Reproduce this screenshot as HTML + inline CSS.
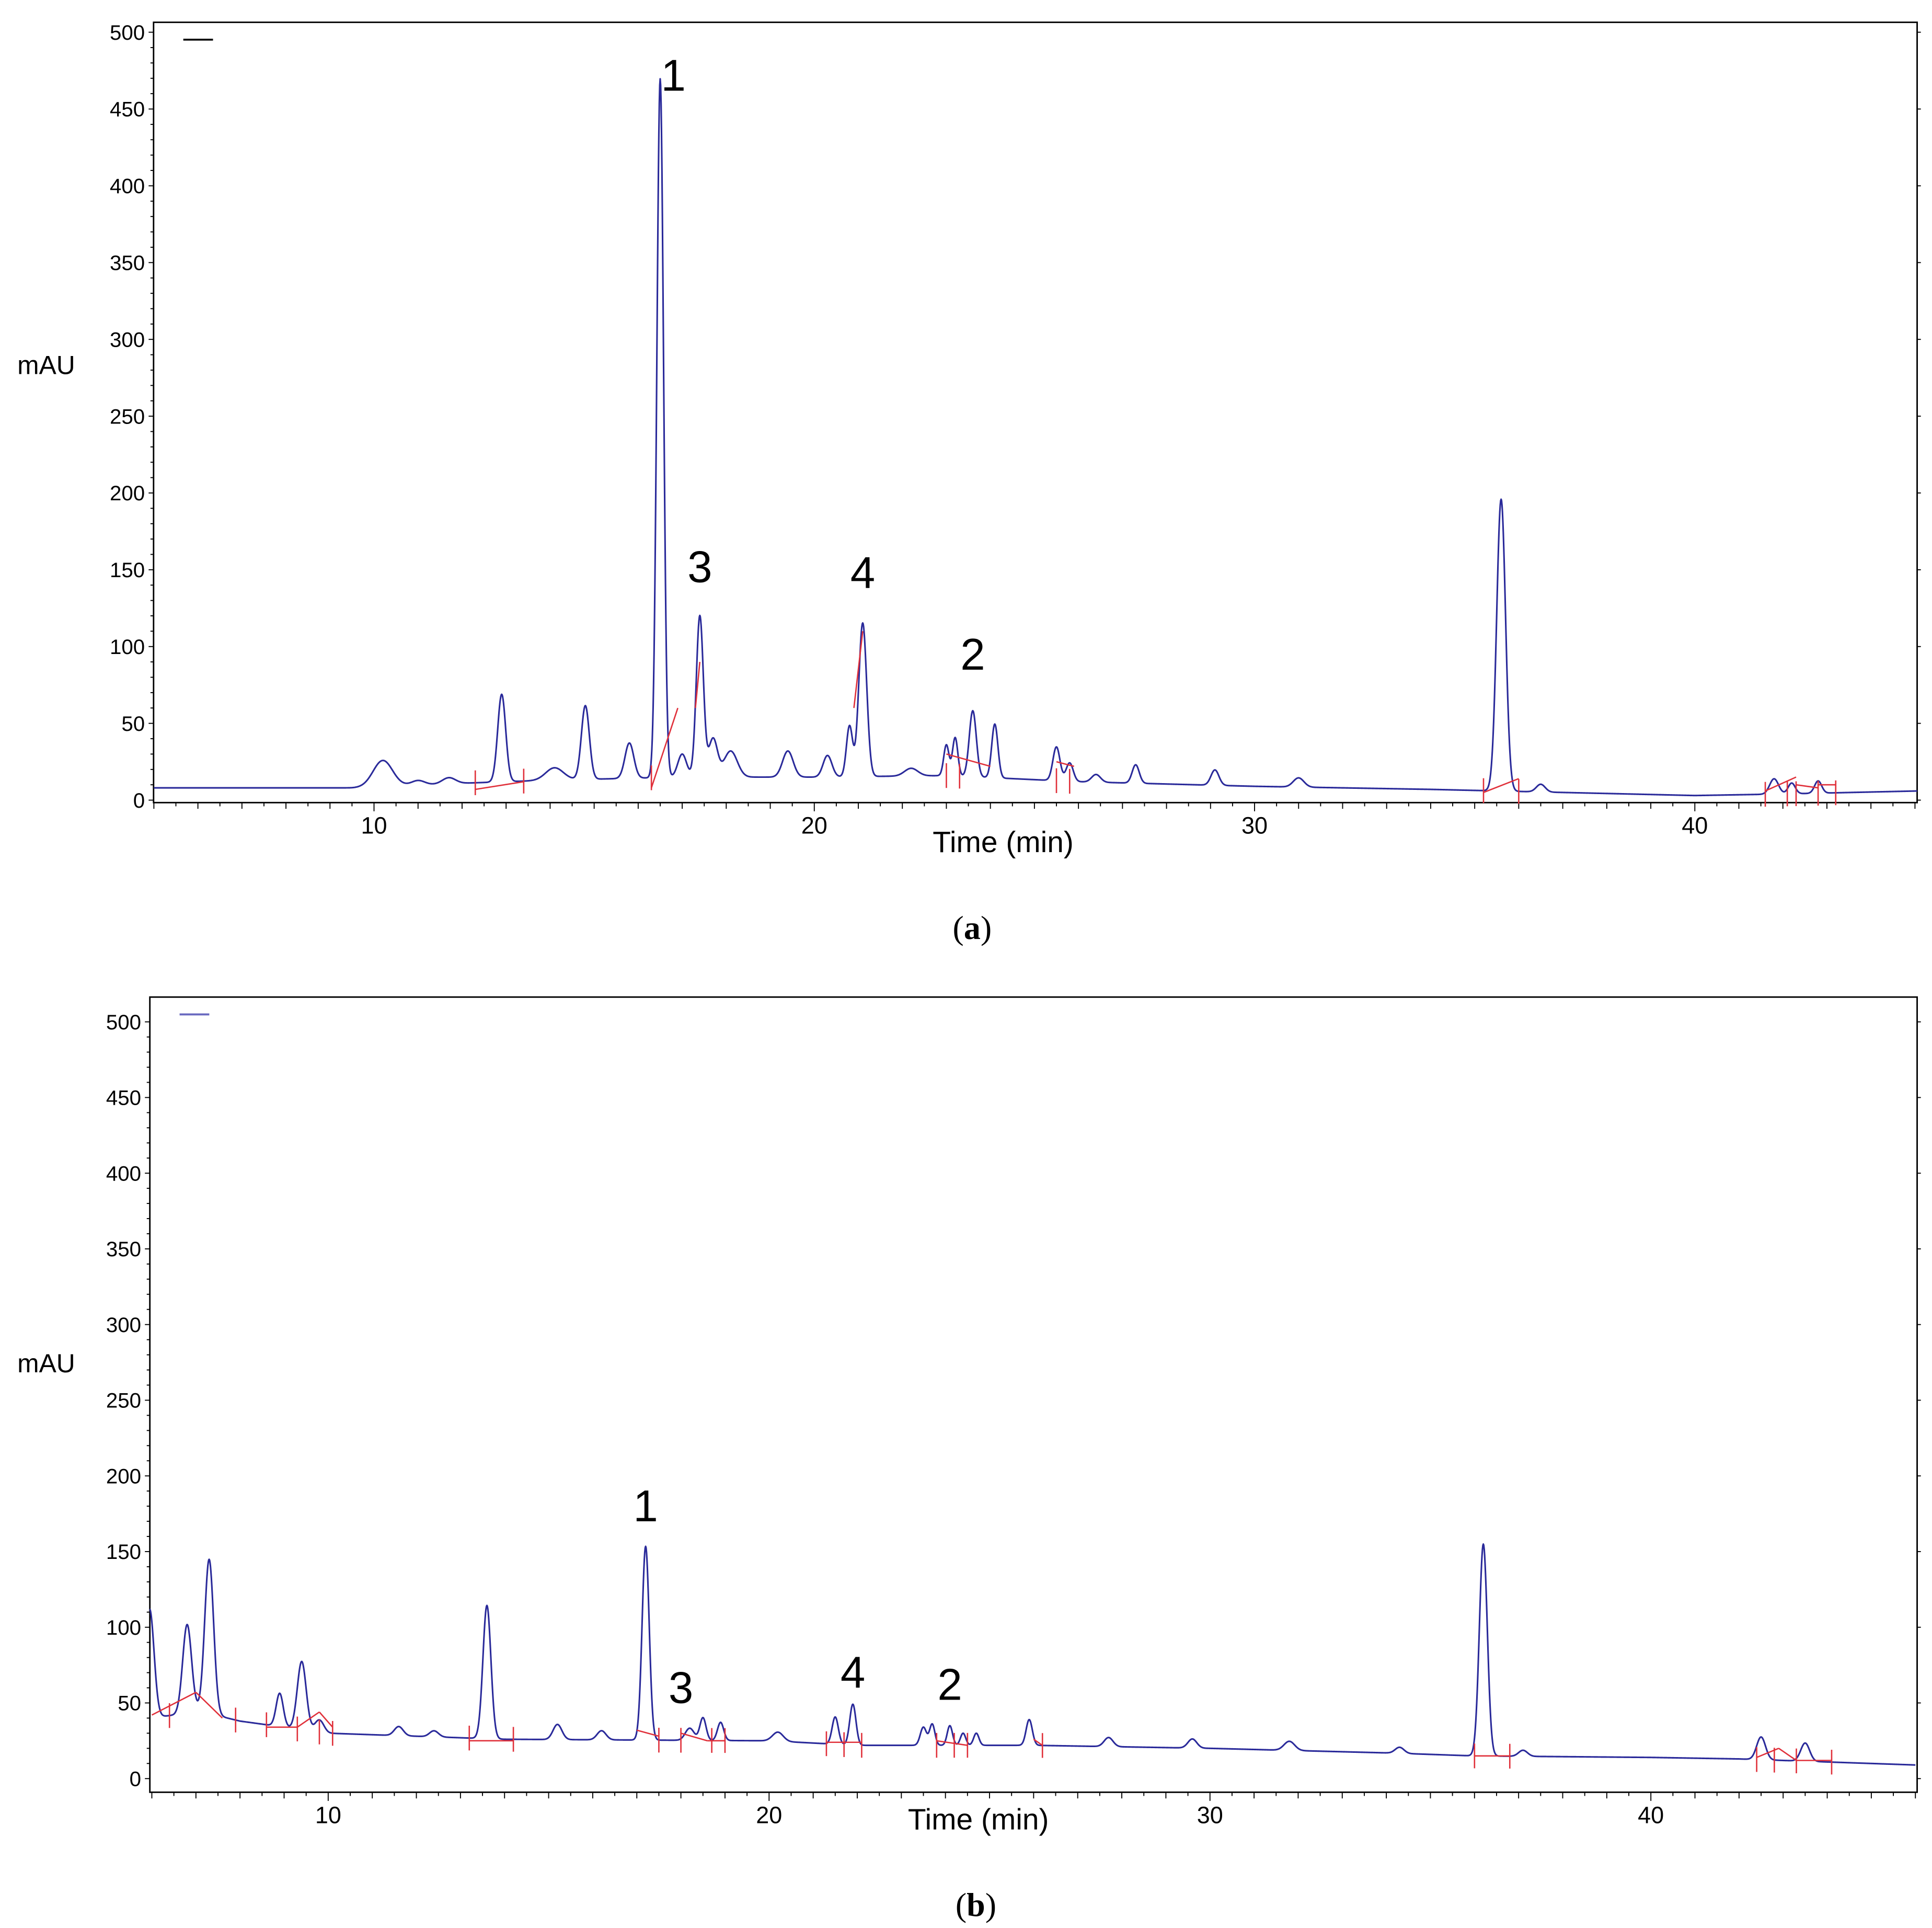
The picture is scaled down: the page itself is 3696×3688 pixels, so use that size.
<!DOCTYPE html>
<html><head><meta charset="utf-8"><style>
html,body{margin:0;padding:0;background:#fff}
svg{display:block}
</style></head><body>
<svg id="fig" xmlns="http://www.w3.org/2000/svg" width="3696" height="3688" viewBox="0 0 1560 1556.6" font-family="Liberation Sans, sans-serif">
<rect width="1560" height="1556.6" fill="#fff"/>
</svg>
<script>
// ---------- Panel (a) data ----------
const aPeakTimes  = [10.2,11.0,11.7,12.9,14.1,14.8,15.8,16.5,17.0,17.4,17.7,18.1,19.4,20.3,20.8,21.1,22.2,23.0,23.2,23.6,24.1,25.5,25.8,26.4,27.3,29.1,31.0,35.6,36.5,41.8,42.2,42.8];
const aPeakHeights= [17,3,4,57,8,48,23,455,15,105,25,17,17,14,33,100,5,20,25,43,35,22,12,5,12,10,6,190,5,10,7,8];
const aPeakWidths = [0.22,0.15,0.15,0.09,0.2,0.09,0.1,0.075,0.1,0.08,0.1,0.15,0.12,0.1,0.07,0.09,0.15,0.06,0.06,0.08,0.07,0.08,0.08,0.1,0.08,0.09,0.12,0.1,0.1,0.1,0.08,0.08];
const aBaseT = [5,9.5,12,14,17,20,23,26,30,34,37,40,42,45.1];
const aBaseV = [8,8,11,13,15,15,16,12,9,7,5,3,4,6];
const aIntSegs = [[12.3,7,13.4,12],[16.3,8,16.9,60],[17.3,60,17.4,90],[20.9,60,21.1,110],[23.0,30,24.0,22],[25.5,25,25.9,22],[35.2,5,36.0,14],[41.6,6,42.3,15],[42.3,10,42.8,8],[42.8,10,43.2,10]];
const aIntTicks = [12.3,13.4,16.3,23.0,23.3,25.5,25.8,35.2,36.0,41.6,42.1,42.3,42.8,43.2];
const aLabels = ["1","3","4","2"];
const aLabelT = [16.8,17.4,21.1,23.6];
const aLabelV = [462,142,138,85];

// ---------- Panel (b) data ----------
const bPeakTimes  = [5.95,6.8,7.3,8.9,9.4,9.8,11.6,12.4,13.6,15.2,16.2,17.2,18.2,18.5,18.9,20.2,21.5,21.9,23.5,23.7,24.1,24.4,24.7,25.9,27.7,29.6,31.8,34.3,36.2,37.1,42.5,43.5];
const bPeakHeights= [72,58,102,22,45,8,6,4,88,10,6,128,8,15,12,6,18,27,12,14,13,8,8,17,6,6,6,4,140,4,15,12];
const bPeakWidths = [0.1,0.1,0.1,0.08,0.1,0.1,0.1,0.1,0.09,0.1,0.1,0.08,0.1,0.07,0.07,0.12,0.07,0.07,0.07,0.06,0.06,0.06,0.06,0.07,0.1,0.1,0.12,0.1,0.09,0.1,0.1,0.1];
const bBaseT = [5.95,6.5,7.0,8.0,10,14,20,22,26,30,34,36,40,42,44,46];
const bBaseV = [40,42,45,38,30,26,25,22,22,20,17,15,14,13,11,9];
const bIntSegs = [[6.0,42,7.0,57],[7.0,57,7.6,40],[8.6,34,9.3,34],[9.3,34,9.8,44],[9.8,44,10.1,34],[13.2,25,14.2,25],[17.0,32,17.5,28],[18.0,30,18.6,25],[18.6,25,19.0,25],[21.3,24,22.1,24],[23.8,25,24.5,22],[26.0,26,26.2,22],[36.0,15,36.8,15],[42.4,14,42.9,20],[42.9,20,43.3,12],[43.3,12,44.1,12]];
const bIntTicks = [6.4,7.9,8.6,9.3,9.8,10.1,13.2,14.2,17.5,18.0,18.7,19.0,21.3,21.7,22.1,23.8,24.2,24.5,26.2,36.0,36.8,42.4,42.8,43.3,44.1];
const bLabels = ["1","3","4","2"];
const bLabelT = [17.2,18.0,21.9,24.1];
const bLabelV = [170,50,60,52];

const yTicks = [0,50,100,150,200,250,300,350,400,450,500];
const xTicks = [10,20,30,40];

const NS="http://www.w3.org/2000/svg";
const svg=document.getElementById('fig');
function mk(tag,attrs,parent){const e=document.createElementNS(NS,tag);for(const k in attrs)e.setAttribute(k,attrs[k]);(parent||svg).appendChild(e);return e;}
function interp(ts,vs,t){if(t<=ts[0])return vs[0];for(let i=1;i<ts.length;i++){if(t<=ts[i]){const f=(t-ts[i-1])/(ts[i]-ts[i-1]);return vs[i-1]+f*(vs[i]-vs[i-1]);}}return vs[vs.length-1];}

function panel(cfg){
  const g=mk('g',{});
  
  
  const X=t=>cfg.x10+(t-10)*cfg.pxMin;
  const Y=v=>cfg.y0-v*cfg.pxU;
  const fr=mk('rect',{x:cfg.left,y:cfg.top,width:cfg.right-cfg.left,height:cfg.bottom-cfg.top,fill:'none',stroke:'#000','stroke-width':1.2},g);
  
  
  for(let v=0;v<=500;v+=10){const major=v%50===0;mk('line',{x1:cfg.left-(major?4:2.5),x2:cfg.left,y1:Y(v),y2:Y(v),stroke:'#000','stroke-width':0.8},g);
    mk('line',{x1:cfg.right,x2:cfg.right+(major?3:0),y1:Y(v),y2:Y(v),stroke:'#000','stroke-width':0.8},g);}
  yTicks.forEach(v=>{const t=mk('text',{x:cfg.left-7,y:Y(v)+6,'font-size':17,'text-anchor':'end',fill:'#000'},g);t.textContent=v;
    
    });
  for(let t=Math.ceil(cfg.t0*2)/2;t<=cfg.t1;t+=0.5){const major=Math.abs(t-Math.round(t/10)*10)<1e-6;const mid=Math.abs(t-Math.round(t))<1e-6;
    mk('line',{x1:X(t),x2:X(t),y1:cfg.bottom,y2:cfg.bottom+(major?7:mid?5:3),stroke:'#000','stroke-width':0.8},g);}
  xTicks.forEach(v=>{const t=mk('text',{x:X(v),y:cfg.bottom+25,'font-size':19,'text-anchor':'middle',fill:'#000'},g);t.textContent=v;
    
    });
  const yl=mk('text',{x:cfg.ylx,y:cfg.yly,'font-size':21,fill:'#000'},g);yl.textContent='mAU';
  
  
  const xl=mk('text',{x:cfg.xlx,y:cfg.xly,'font-size':24,'text-anchor':'middle',fill:'#000'},g);xl.textContent='Time (min)';
  
  
  const lg=mk('line',{x1:cfg.left+24,x2:cfg.left+48,y1:cfg.top+14,y2:cfg.top+14,stroke:cfg.legendColor,'stroke-width':1.6},g);
  
  
  let d='';
  for(let t=cfg.t0;t<=cfg.t1;t+=0.01){let v=interp(cfg.bT,cfg.bV,t);
    for(let i=0;i<cfg.pt.length;i++){const z=(t-cfg.pt[i])/cfg.pw[i];if(Math.abs(z)<6)v+=cfg.ph[i]*Math.exp(-0.5*z*z);}
    d+=(d?'L':'M')+X(t).toFixed(2)+','+Y(v).toFixed(2);}
  const tr=mk('path',{d:d,fill:'none',stroke:'#2a2a9a','stroke-width':1.3,'stroke-linejoin':'round'},g);
  
  
  cfg.segs.forEach(s=>{const l=mk('line',{x1:X(s[0]),y1:Y(s[1]),x2:X(s[2]),y2:Y(s[3]),stroke:'#e0303a','stroke-width':1.1},g);
    
    });
  cfg.ticks.forEach(t=>{const yv=Y(interp(cfg.bT,cfg.bV,t));const l=mk('line',{x1:X(t),y1:yv-10,x2:X(t),y2:yv+10,stroke:'#e0303a','stroke-width':1.1},g);
    
    });
  cfg.labels.forEach((s,i)=>{const t=mk('text',{x:X(cfg.lt[i]),y:Y(cfg.lv[i]),'font-size':36,'text-anchor':'middle',fill:'#000'},g);t.textContent=s;
    
    });
  const cap=mk('text',{x:cfg.capx,y:cfg.capy,'font-size':27,'text-anchor':'middle','font-family':'Liberation Serif, serif',fill:'#000'},g);
  cap.innerHTML='(<tspan font-weight="bold">'+cfg.cap+'</tspan>)';
  
  
}

panel({name:'panel-a',left:124,right:1548,top:18,bottom:648,x10:302,t0:5,t1:45.05,pxMin:35.55,y0:646,pxU:1.24,
  pt:aPeakTimes,ph:aPeakHeights,pw:aPeakWidths,bT:aBaseT,bV:aBaseV,segs:aIntSegs,ticks:aIntTicks,
  labels:aLabels,lt:aLabelT,lv:aLabelV,ylx:14,yly:302,xlx:810,xly:688,capx:785,capy:758,cap:'a',legendColor:'#111'});
panel({name:'panel-b',left:121,right:1548,top:805,bottom:1447,x10:265,t0:5.95,t1:46,pxMin:35.6,y0:1436,pxU:1.222,
  pt:bPeakTimes,ph:bPeakHeights,pw:bPeakWidths,bT:bBaseT,bV:bBaseV,segs:bIntSegs,ticks:bIntTicks,
  labels:bLabels,lt:bLabelT,lv:bLabelV,ylx:14,yly:1108,xlx:790,xly:1477,capx:788,capy:1547,cap:'b',legendColor:'#6a6ac0'});
</script>
</body></html>
